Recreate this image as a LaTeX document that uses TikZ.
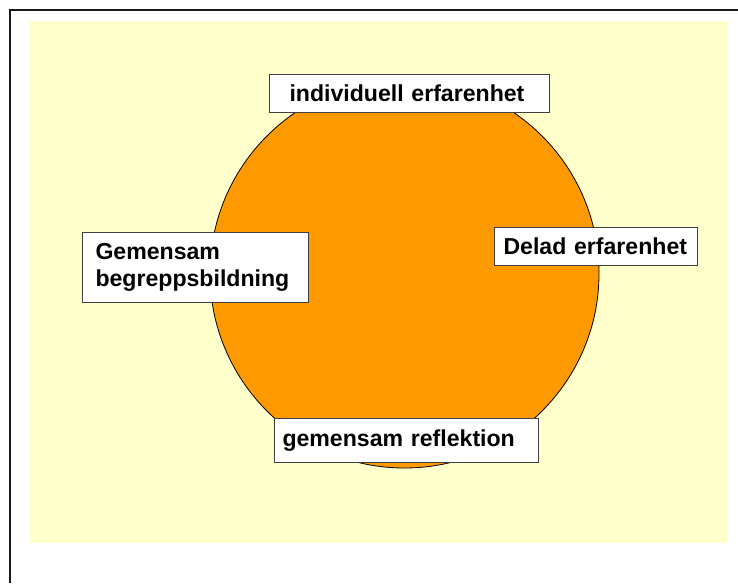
\documentclass[tikz,border=0pt]{standalone}
\usepackage{fontspec}
\setmainfont{Liberation Sans}
\definecolor{bakgrund}{HTML}{FFFFCC}
\definecolor{apelsin}{HTML}{FF9900}
\tikzset{
    etikett/.style={draw=black!75, line width=0.5pt, fill=white, anchor=north west,
        align=left, font=\fontsize{11.55}{13.5}\selectfont\bfseries},
}
\begin{document}
\begin{tikzpicture}[x=0.5pt,y=-0.5pt]
    \useasboundingbox (0,0) rectangle (738,583);
    \draw [line width=1pt, black!90] (10,583) -- (10,10) -- (738,10);
    \fill [bakgrund] (30,21) rectangle (727,543);
    \filldraw [fill=apelsin, draw=black, line width=0.4pt] (404.5,273.5) circle (97.25pt);
    % etiketter runt cirkeln
    \node [etikett, inner xsep=10pt, text width=120pt, minimum height=19pt] (indiv) at (269,74) {individuell erfarenhet};
    \node [etikett, inner xsep=4.5pt, text width=92.5pt, minimum height=19pt] (delad) at (494,227) {Delad erfarenhet};
    \node [etikett, inner xsep=6.5pt, text width=100pt, minimum height=35pt] (begrepp) at (82,232) {Gemensam\\begreppsbildning};
    \node [etikett, inner xsep=4pt, text width=124pt, minimum height=22pt] (reflektion) at (274,418) {gemensam reflektion};
\end{tikzpicture}
\end{document}
